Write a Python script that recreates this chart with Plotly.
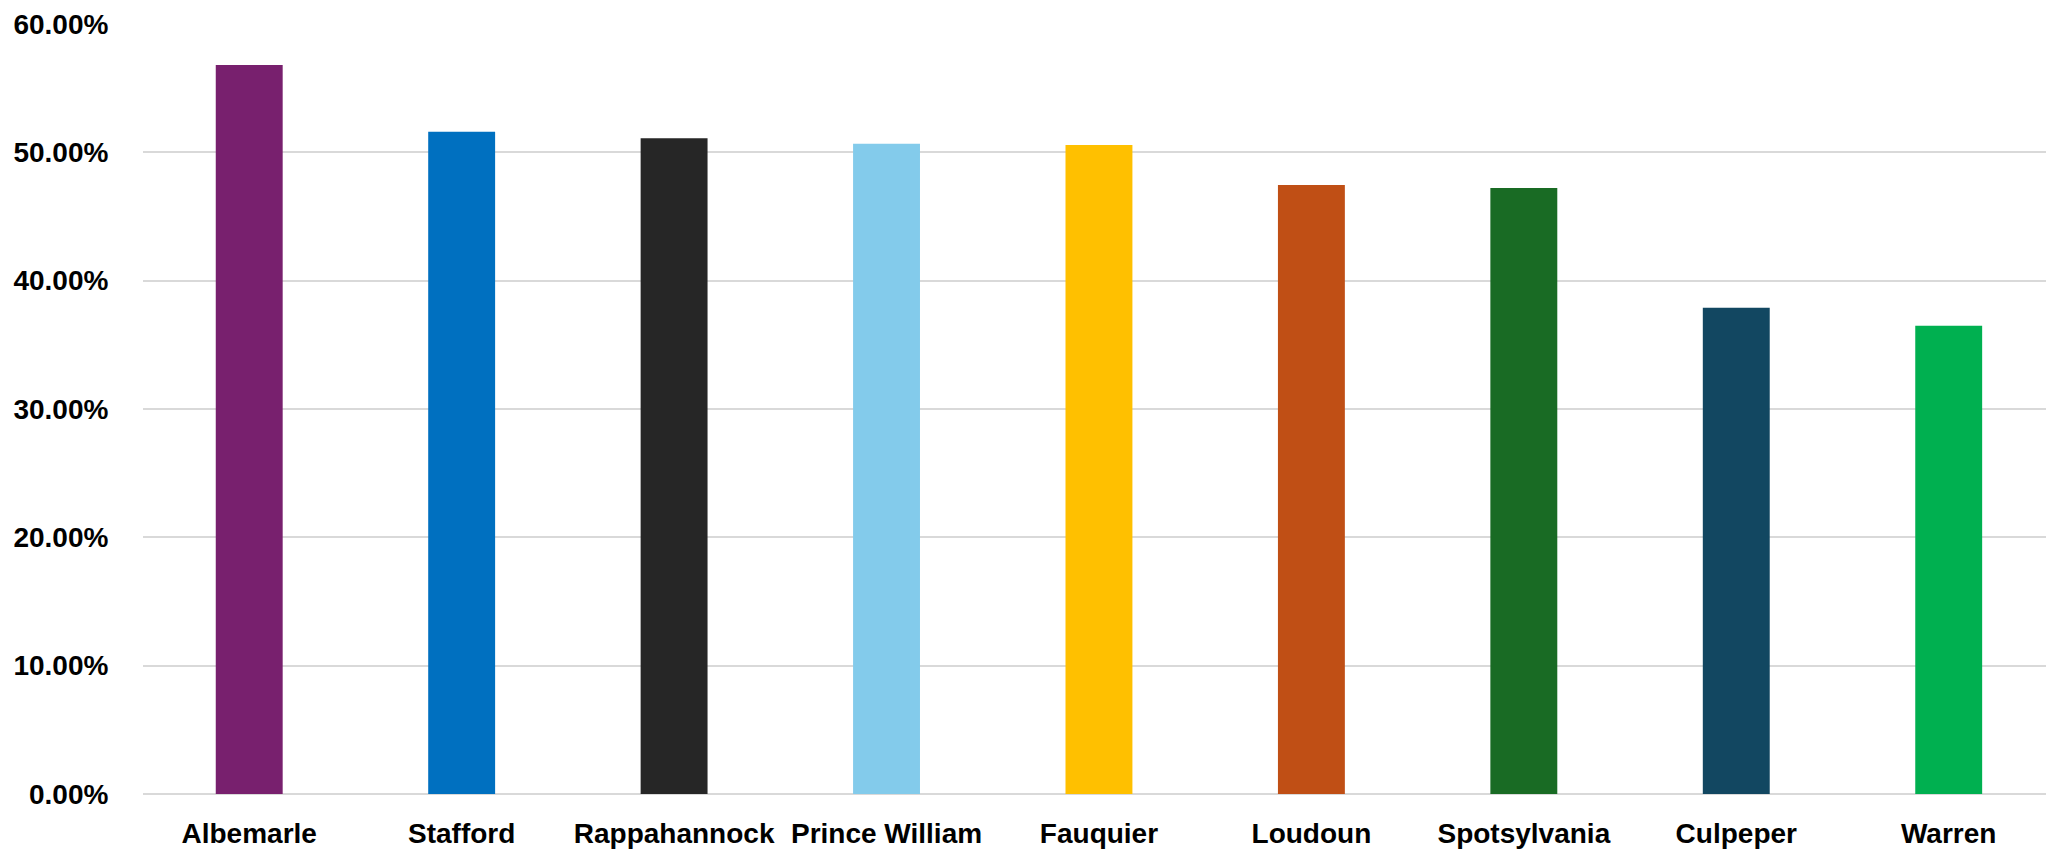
import plotly.graph_objects as go

counties = ["Albemarle", "Stafford", "Rappahannock", "Prince William", "Fauquier",
            "Loudoun", "Spotsylvania", "Culpeper", "Warren"]
values = [0.568, 0.516, 0.511, 0.5066, 0.5058, 0.4746, 0.4723, 0.3788, 0.3648]
colors = ["#78206E", "#0070C0", "#262626", "#83CBEB", "#FFC000",
          "#C04F15", "#196B24", "#124761", "#00B050"]
y_ticks = [0, 0.1, 0.2, 0.3, 0.4, 0.5, 0.6]

fig = go.Figure(go.Bar(x=counties, y=values, marker=dict(color=colors, line=dict(width=0))))

tf = dict(family="Liberation Sans, Arial, sans-serif", size=28, color="#000000", weight="bold")

fig.update_layout(
    width=2046, height=851,
    margin=dict(l=143, r=0, t=24, b=57, autoexpand=False),
    plot_bgcolor="white", paper_bgcolor="white",
    bargap=0.685,
    showlegend=False,
    font=dict(family="Liberation Sans, Arial, sans-serif", size=28, color="#000000"),
    xaxis=dict(showgrid=False, ticks="outside", ticklen=14, tickcolor="rgba(0,0,0,0)",
               showline=False, automargin=False, range=[-0.5, 8.458],
               tickfont=tf),
    yaxis=dict(range=[0, 0.6], tickvals=y_ticks, tickformat=".2%",
               showgrid=True, gridcolor="#D9D9D9", gridwidth=2,
               zeroline=True, zerolinecolor="#D9D9D9", zerolinewidth=2,
               ticks="outside", ticklen=28, tickcolor="rgba(0,0,0,0)",
               showline=False, automargin=False,
               tickfont=tf),
)

fig.write_html("out.html")
